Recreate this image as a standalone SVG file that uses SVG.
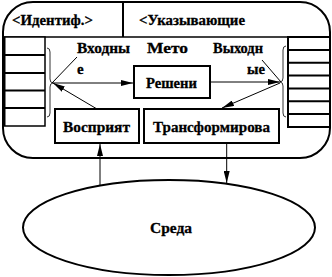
<svg xmlns="http://www.w3.org/2000/svg" width="332" height="277" viewBox="0 0 332 277">
<defs>
<style>
.t{font-family:"Liberation Serif","Times New Roman",serif;font-weight:bold;font-size:15px;fill:#000;stroke:#000;stroke-width:0.3}
.box{fill:#fff;stroke:#000;stroke-width:2}
.thin{fill:none;stroke:#000;stroke-width:1}
.row{stroke:#000;stroke-width:2}
.br{fill:none;stroke:#333;stroke-width:1}
</style>
<marker id="ah" markerUnits="userSpaceOnUse" markerWidth="12" markerHeight="6" refX="12" refY="3" orient="auto">
<path d="M0,0 L12,3 L0,6 z" fill="#000"/>
</marker>
</defs>
<rect width="332" height="277" fill="#fff"/>
<g id="agent">
<rect x="3" y="2" width="327" height="156" rx="30" ry="30" fill="#fff" stroke="#000" stroke-width="2"/>
<line x1="3" y1="37" x2="330" y2="37" stroke="#000" stroke-width="1.5"/>
<line x1="123" y1="2" x2="123" y2="37" stroke="#000" stroke-width="2"/>
</g>
<g id="header-id">
<text class="t" x="12" y="25" textLength="81" lengthAdjust="spacingAndGlyphs">&lt;Идентиф.&gt;</text>
</g>
<g id="header-ptr">
<text class="t" x="139" y="25" textLength="106" lengthAdjust="spacingAndGlyphs">&lt;Указывающие</text>
</g>
<g id="input-stack">
<rect x="4" y="37" width="41" height="89" fill="#fff" stroke="#000" stroke-width="1.5"/>
<line class="row" x1="4" y1="55" x2="45" y2="55"/>
<line class="row" x1="4" y1="73" x2="45" y2="73"/>
<line class="row" x1="4" y1="90.5" x2="45" y2="90.5"/>
<line class="row" x1="4" y1="108" x2="45" y2="108"/>
<line x1="4" y1="37" x2="4" y2="126" stroke="#000" stroke-width="3"/>
<path class="br" d="M47,48 Q50,48 50,52 L50,79 Q50,83 53,83 Q50,83 50,87 L50,113 Q50,117 47,117"/>
</g>
<g id="output-stack">
<rect x="288" y="37" width="42" height="90" fill="#fff" stroke="#000" stroke-width="2"/>
<line class="row" x1="288" y1="49.9" x2="330" y2="49.9"/>
<line class="row" x1="288" y1="62.7" x2="330" y2="62.7"/>
<line class="row" x1="288" y1="75.6" x2="330" y2="75.6"/>
<line class="row" x1="288" y1="88.4" x2="330" y2="88.4"/>
<line class="row" x1="288" y1="101.3" x2="330" y2="101.3"/>
<line class="row" x1="288" y1="114.1" x2="330" y2="114.1"/>
<path class="br" d="M286,46 Q283,46 283,50 L283,78 Q283,82 280,82 Q283,82 283,86 L283,113 Q283,117 286,117"/>
</g>
<g id="label-inputs">
<text class="t" x="77" y="53" textLength="53" lengthAdjust="spacingAndGlyphs">Входны</text>
<text class="t" x="77" y="74">е</text>
</g>
<g id="label-method">
<text class="t" x="147" y="53" textLength="41" lengthAdjust="spacingAndGlyphs">Мето</text>
</g>
<g id="label-outputs">
<text class="t" x="213" y="53" textLength="50" lengthAdjust="spacingAndGlyphs">Выходн</text>
<text class="t" x="247" y="74" textLength="18" lengthAdjust="spacingAndGlyphs">ые</text>
</g>
<g id="decision">
<rect class="box" x="134" y="66" width="76" height="32"/>
<text class="t" x="146" y="88" textLength="51" lengthAdjust="spacingAndGlyphs">Решени</text>
</g>
<g id="perception">
<rect class="box" x="55" y="109" width="84" height="34"/>
<text class="t" x="63" y="132" textLength="67" lengthAdjust="spacingAndGlyphs">Восприят</text>
</g>
<g id="transformation">
<rect class="box" x="144" y="109" width="135" height="34"/>
<text class="t" x="153" y="132" textLength="117" lengthAdjust="spacingAndGlyphs">Трансформирова</text>
</g>
<g id="environment">
<ellipse cx="169" cy="227.5" rx="146" ry="47.5" fill="#fff" stroke="#000" stroke-width="2"/>
<text class="t" x="150" y="233" textLength="42" lengthAdjust="spacingAndGlyphs">Среда</text>
</g>
<g id="connectors">
<line class="thin" x1="77" y1="57" x2="52" y2="83" stroke="#444"/>
<line class="thin" x1="262" y1="60" x2="281" y2="82" stroke="#444"/>
<line class="thin" x1="53" y1="83" x2="133" y2="83" marker-end="url(#ah)"/>
<line class="thin" x1="97" y1="109" x2="53" y2="83" marker-end="url(#ah)"/>
<line class="thin" x1="210" y1="82" x2="280" y2="82" marker-end="url(#ah)"/>
<line class="thin" x1="280" y1="83" x2="222" y2="108" marker-end="url(#ah)"/>
<line class="thin" x1="100" y1="185" x2="100" y2="144" marker-end="url(#ah)"/>
<line class="thin" x1="226.7" y1="144" x2="226.7" y2="183" marker-end="url(#ah)"/>
</g>
</svg>
